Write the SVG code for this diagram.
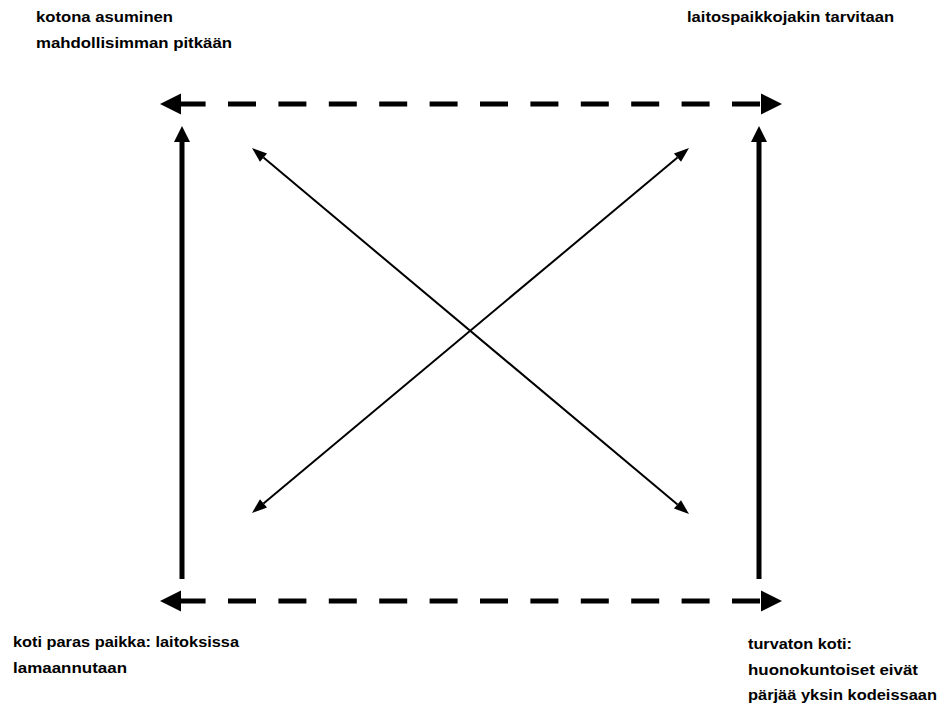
<svg xmlns="http://www.w3.org/2000/svg" width="938" height="705" viewBox="0 0 938 705">
<style>
  text { font-family: "Liberation Sans", Arial, sans-serif; font-weight: bold; font-size: 15.5px; fill: #000; }
  .dash { stroke: #000; stroke-width: 5; fill: none; stroke-dasharray: 28 22.4; stroke-dashoffset: 3.4; marker-start: url(#bigHead); marker-end: url(#bigHead); }
  .solid { stroke: #000; stroke-width: 5; fill: none; marker-end: url(#midHead); }
  .thin { stroke: #000; stroke-width: 2; fill: none; marker-start: url(#smallHead); marker-end: url(#smallHead); }
</style>
<defs>
  <marker id="bigHead" markerUnits="userSpaceOnUse" markerWidth="21" markerHeight="21" refX="0" refY="10.5" orient="auto-start-reverse" overflow="visible">
    <path d="M0,0 L21,10.5 L0,21 Z" fill="#000"/>
  </marker>
  <marker id="midHead" markerUnits="userSpaceOnUse" markerWidth="16" markerHeight="16" refX="0" refY="8" orient="auto" overflow="visible">
    <path d="M0,0 L16,8 L0,16 Z" fill="#000"/>
  </marker>
  <marker id="smallHead" markerUnits="userSpaceOnUse" markerWidth="15" markerHeight="11" refX="0" refY="5.5" orient="auto-start-reverse" overflow="visible">
    <path d="M0,0 L15,5.5 L0,11 Z" fill="#000"/>
  </marker>
</defs>
<g id="connectors">
  <path class="dash" d="M181,104 H761"/>
  <path class="dash" d="M181,601 H761"/>
  <path class="solid" d="M182,579 V142"/>
  <path class="solid" d="M759,579 V142"/>
  <path class="thin" d="M263.5,157.6 L677.5,504.4"/>
  <path class="thin" d="M677.5,157.6 L263.5,503.4"/>
</g>
<g id="node-top-left">
  <text x="36" y="22" textLength="137" lengthAdjust="spacingAndGlyphs">kotona asuminen</text>
  <text x="36" y="48" textLength="196" lengthAdjust="spacingAndGlyphs">mahdollisimman pitkään</text>
</g>
<g id="node-top-right">
  <text x="687" y="22" textLength="207" lengthAdjust="spacingAndGlyphs">laitospaikkojakin tarvitaan</text>
</g>
<g id="node-bottom-left">
  <text x="13" y="647" textLength="226" lengthAdjust="spacingAndGlyphs">koti paras paikka: laitoksissa</text>
  <text x="13" y="673" textLength="114" lengthAdjust="spacingAndGlyphs">lamaannutaan</text>
</g>
<g id="node-bottom-right">
  <text x="748" y="649" textLength="104" lengthAdjust="spacingAndGlyphs">turvaton koti:</text>
  <text x="748" y="675" textLength="170" lengthAdjust="spacingAndGlyphs">huonokuntoiset eivät</text>
  <text x="748" y="700" textLength="189" lengthAdjust="spacingAndGlyphs">pärjää yksin kodeissaan</text>
</g>
</svg>
